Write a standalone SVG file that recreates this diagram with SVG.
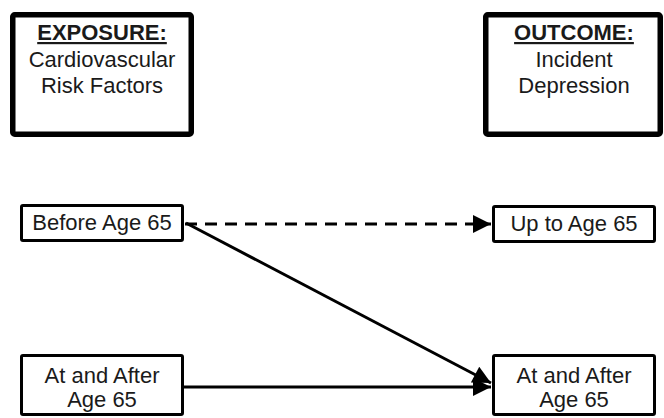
<svg xmlns="http://www.w3.org/2000/svg" width="664" height="418" viewBox="0 0 664 418">
<style>
.big{fill:#fff;stroke:#000;stroke-width:5.5}
.box{fill:#fff;stroke:#000;stroke-width:3}
text{font-family:"Liberation Sans",Arial,sans-serif;font-size:22px;fill:#1a1a1a;text-anchor:middle}
.hd{font-weight:bold;text-decoration:underline}
.ln{stroke:#000;stroke-width:3;fill:none}
</style>
<defs>
<marker id="ah" viewBox="0 0 10 10" refX="10" refY="5" markerWidth="21" markerHeight="18" markerUnits="userSpaceOnUse" orient="auto">
<path d="M0,0L10,5L0,10z" fill="#000"/>
</marker>
</defs>
<rect width="664" height="418" fill="#fff"/>
<g id="exposure">
<rect class="big" x="12.75" y="14.75" width="178.5" height="119.5" rx="2"/>
<text class="hd" x="102" y="40">EXPOSURE:</text>
<text x="102" y="67">Cardiovascular</text>
<text x="102" y="93">Risk Factors</text>
</g>
<g id="outcome">
<rect class="big" x="485.75" y="14.75" width="174.5" height="119.5" rx="2"/>
<text class="hd" x="574" y="40">OUTCOME:</text>
<text x="574" y="67">Incident</text>
<text x="574" y="93">Depression</text>
</g>
<g id="before65">
<rect class="box" x="21.5" y="205.5" width="161" height="35" rx="1.5"/>
<text x="102" y="230">Before Age 65</text>
</g>
<g id="upto65">
<rect class="box" x="493.5" y="206.5" width="161" height="35" rx="1.5"/>
<text x="574" y="231">Up to Age 65</text>
</g>
<g id="after65-exp">
<rect class="box" x="21.5" y="355.5" width="161" height="59" rx="1.5"/>
<text x="102" y="383">At and After</text>
<text x="102" y="407">Age 65</text>
</g>
<g id="after65-out">
<rect class="box" x="493.5" y="355.5" width="161" height="59" rx="1.5"/>
<text x="574" y="383">At and After</text>
<text x="574" y="407">Age 65</text>
</g>
<g id="connectors">
<line class="ln" x1="185" y1="224" x2="491" y2="224" stroke-dasharray="12 8" marker-end="url(#ah)"/>
<line class="ln" x1="186" y1="223" x2="491" y2="383" marker-end="url(#ah)"/>
<line class="ln" x1="184" y1="387" x2="491" y2="387" marker-end="url(#ah)"/>
</g>
</svg>
